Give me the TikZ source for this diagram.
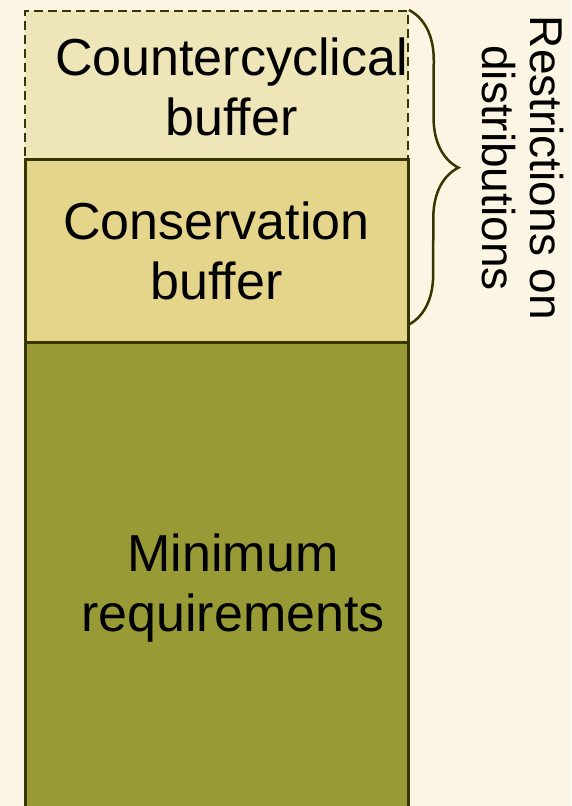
\documentclass[tikz,border=0pt]{standalone}
\usepackage{fontspec}
\setmainfont{Liberation Sans}
\usepackage{tikz}
\usetikzlibrary{positioning,decorations.pathreplacing}

\definecolor{bgcream}{HTML}{FCF5E3}
\definecolor{ccbfill}{HTML}{EEE5B8}
\definecolor{csbfill}{HTML}{E4D58B}
\definecolor{minfill}{HTML}{989A36}
\definecolor{edge}{HTML}{363600}

\tikzset{
  layer/.style = {shape = rectangle, draw = edge, line width = 3pt, minimum width = 383pt, inner sep = 0pt, anchor = north},
  bigtext/.style = {align = center, font = \fontsize{52}{60}\selectfont},
  sidetext/.style = {align = center, rotate = -90, font = \fontsize{46}{48}\selectfont}
}

\begin{document}
\begin{tikzpicture}[x = 1pt, y = -1pt]
\fill[bgcream] (0,0) rectangle (571,806);
\useasboundingbox (0,0) rectangle (571,806);
\node[layer, fill = ccbfill, minimum height = 148pt, dash pattern = on 9pt off 5pt, line width = 1.8pt] (ccb) at (216.5,10) {};
\node[layer, fill = csbfill, minimum height = 183pt] (csb) at (216.5,158) {};
\node[layer, fill = minfill, minimum height = 490pt] (minreq) at (216.5,341) {};
\node[bigtext] (ccbtext) at ([xshift = 15pt, yshift = -2pt]ccb.center) {Countercyclical\\buffer};
\node[bigtext] (csbtext) at (csb.center) {Conservation\\buffer};
\node[bigtext] (mintext) at (233,588) {Minimum\\requirements};
\coordinate (bracetop) at (ccb.north east);
\coordinate (bracebot) at (408,325);
\draw[edge, line width = 2.5pt, decorate, decoration = {brace, amplitude = 50pt}] (bracetop) -- (bracebot);
\node[sidetext] (restrict) at (523,168) {Restrictions on\\distributions};
\end{tikzpicture}
\end{document}
